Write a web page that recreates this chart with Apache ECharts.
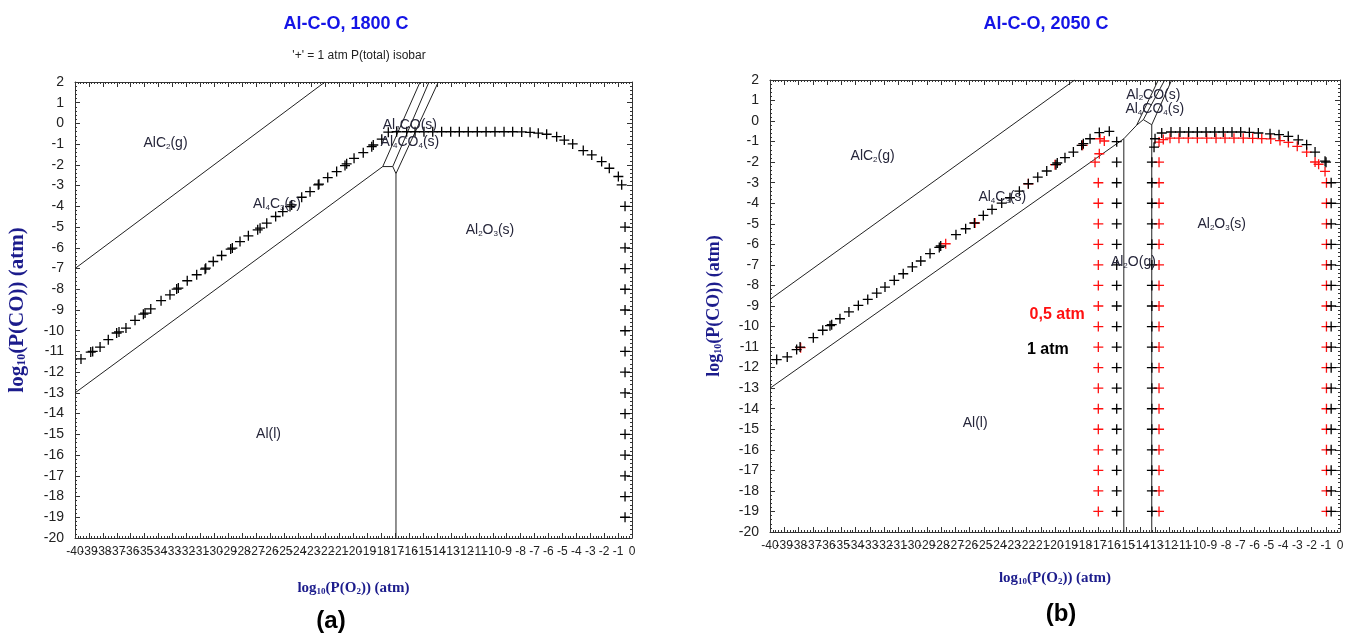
<!DOCTYPE html>
<html>
<head>
<meta charset="utf-8">
<title>Al-C-O predominance diagrams</title>
<script src="https://cdn.jsdelivr.net/npm/echarts@6/dist/echarts.min.js"></script>
<style>
  html, body { margin: 0; background: #fff; }
  #main { width: 1358px; height: 634px; }
</style>
</head>
<body>
<div id="main"></div>
<script type="text/javascript">
// axis ranges (log10 units)
var xMin = -40, xMax = 0, yMin = -20, yMax = 2;

// ---- panel (a), 1800 C : phase boundaries [log P(O2), log P(CO)]
var aUpper = [[-40, -7], [-22.05, 2]];
var aLower = [[-40, -13], [-17.9, -2.08], [-17.18, -2.08], [-16.95, -2.42], [-16.95, -20]];
var aFan1 = [[-17.9, -2.08], [-15.22, 2]];
var aFan2 = [[-17.18, -2.08], [-14.58, 2]];
var aFan3 = [[-16.95, -2.42], [-13.91, 2]];

// panel (a): 1 atm isobar points
var aIsobar = [
  [-39.57, -11.36], [-38.87, -11.03], [-38.73, -11.0], [-38.2, -10.79], [-37.61, -10.43],
  [-37.01, -10.11], [-36.84, -10.06], [-36.34, -9.87], [-35.69, -9.5], [-35.09, -9.2],
  [-34.97, -9.15], [-34.56, -8.95], [-33.82, -8.55], [-33.18, -8.27], [-32.7, -7.99],
  [-32.58, -7.94], [-31.94, -7.59], [-31.26, -7.3], [-30.66, -7.03], [-30.61, -6.98],
  [-30.07, -6.66], [-29.47, -6.37], [-28.82, -6.06], [-28.7, -6.01], [-28.15, -5.7],
  [-27.55, -5.42], [-26.88, -5.13], [-26.71, -5.05], [-26.23, -4.81], [-25.59, -4.49],
  [-25.08, -4.25], [-24.56, -4.01], [-24.44, -3.93], [-23.72, -3.56], [-23.12, -3.29],
  [-22.53, -2.96], [-22.48, -2.93], [-21.85, -2.61], [-21.21, -2.32], [-20.61, -2.03],
  [-20.49, -1.95], [-19.96, -1.68], [-19.3, -1.41], [-18.69, -1.12], [-18.58, -1.04],
  [-17.97, -0.76], [-17.5, -0.42], [-16.9, -0.4], [-16.18, -0.4], [-15.58, -0.4],
  [-14.94, -0.4], [-14.31, -0.4], [-13.67, -0.4], [-13.02, -0.4], [-12.4, -0.4],
  [-11.76, -0.4], [-11.11, -0.4], [-10.48, -0.4], [-9.84, -0.4], [-9.19, -0.4],
  [-8.57, -0.4], [-7.92, -0.41], [-7.32, -0.43], [-6.73, -0.47], [-6.13, -0.52],
  [-5.41, -0.64], [-4.86, -0.8], [-4.26, -0.99], [-3.5, -1.31], [-2.89, -1.52],
  [-2.18, -1.84], [-1.63, -2.16], [-0.98, -2.56], [-0.74, -2.96]
];
var aColumnX = -0.5;
var aColumnY = [-4, -5, -6, -7, -8, -9, -10, -11, -12, -13, -14, -15, -16, -17, -18, -19];

// ---- panel (b), 2050 C : phase boundaries
var bUpper = [[-40, -8.68], [-18.62, 2]];
var bLower = [[-40, -13], [-15.17, -0.86], [-15.17, -20]];
var bKinks = [[-15.17, -0.86], [-14.27, -0.2], [-13.8, 0.07], [-13.21, -0.18], [-13.21, -20]];
var bFan1 = [[-14.27, -0.2], [-12.75, 2]];
var bFan2 = [[-13.8, 0.07], [-12.3, 2]];
var bFan3 = [[-13.21, -0.18], [-11.81, 2]];

// panel (b): 1 atm isobar (black)
var bIsobar1 = [
  [-39.53, -11.61], [-38.79, -11.48], [-38.13, -11.12], [-37.89, -11.0], [-36.96, -10.54],
  [-36.3, -10.18], [-35.79, -9.96], [-35.67, -9.91], [-35.09, -9.62], [-34.46, -9.29],
  [-33.8, -8.97], [-33.14, -8.68], [-32.51, -8.37], [-31.93, -8.08], [-31.28, -7.75],
  [-30.65, -7.43], [-30.01, -7.1], [-29.42, -6.81], [-28.77, -6.45], [-28.12, -6.15],
  [-28.02, -6.08], [-26.95, -5.53], [-26.27, -5.24], [-25.66, -4.96], [-25.03, -4.59],
  [-24.42, -4.3], [-23.74, -3.99], [-23.16, -3.73], [-22.5, -3.41], [-21.87, -3.05],
  [-21.21, -2.73], [-20.58, -2.43], [-19.93, -2.12], [-19.84, -2.04], [-19.3, -1.78],
  [-18.71, -1.51], [-18.13, -1.18], [-18.01, -1.1], [-17.54, -0.86], [-16.89, -0.56],
  [-16.19, -0.5],
  [-12.98, -0.86], [-13.05, -1.27], [-12.51, -0.58],
  [-11.86, -0.53], [-11.23, -0.53], [-10.62, -0.53], [-10.01, -0.53], [-9.4, -0.53],
  [-8.79, -0.53], [-8.19, -0.53], [-7.58, -0.53], [-6.97, -0.53], [-6.36, -0.55],
  [-5.73, -0.58], [-4.91, -0.62], [-4.28, -0.66], [-3.63, -0.74], [-2.93, -0.91],
  [-2.34, -1.15], [-1.75, -1.51], [-1.05, -1.95], [-0.98, -2.0]
];
var bCol1X = [-15.67, -13.2, -0.62];
var bCol1Y = [
  [-1, -2, -3, -4, -5, -6, -7, -8, -9, -10, -11, -12, -13, -14, -15, -16, -17, -18, -19],
  [-2, -3, -4, -5, -6, -7, -8, -9, -10, -11, -12, -13, -14, -15, -16, -17, -18, -19],
  [-3, -4, -5, -6, -7, -8, -9, -10, -11, -12, -13, -14, -15, -16, -17, -18, -19]
];

// panel (b): 0.5 atm isobar (red)
var bIsobar05 = [
  [-37.85, -11.03], [-27.67, -5.97], [-25.61, -4.96], [-21.87, -3.05], [-20.0, -2.12],
  [-18.06, -1.18], [-16.84, -0.86], [-16.54, -0.97], [-16.89, -1.59], [-17.19, -2.0],
  [-12.7, -1.02], [-12.4, -0.9],
  [-11.93, -0.83], [-11.3, -0.83], [-10.65, -0.83], [-10.01, -0.83], [-9.35, -0.83],
  [-8.7, -0.83], [-8.07, -0.83], [-7.44, -0.83], [-6.79, -0.83], [-6.13, -0.84],
  [-5.49, -0.85], [-4.86, -0.87], [-4.21, -0.95], [-3.62, -1.04], [-3.0, -1.23],
  [-2.34, -1.51], [-1.75, -1.99], [-1.5, -2.1], [-1.05, -2.45]
];
var bCol05X = [-16.96, -12.7, -0.95];
var bCol05Y = [
  [-3, -4, -5, -6, -7, -8, -9, -10, -11, -12, -13, -14, -15, -16, -17, -18, -19],
  [-2, -3, -4, -5, -6, -7, -8, -9, -10, -11, -12, -13, -14, -15, -16, -17, -18, -19],
  [-3, -4, -5, -6, -7, -8, -9, -10, -11, -12, -13, -14, -15, -16, -17, -18, -19]
];

// phase field labels [x, y, text]
var aLabels = [
  [-33.5, -0.95, 'AlC{s|2}(g)'],
  [-25.5, -3.9, 'Al{s|4}C{s|3}(s)'],
  [-15.95, -0.1, 'Al{s|2}CO(s)'],
  [-15.95, -0.92, 'Al{s|4}CO{s|4}(s)'],
  [-10.2, -5.15, 'Al{s|2}O{s|3}(s)'],
  [-26.1, -15.0, 'Al(l)']
];
var bLabels = [
  [-32.8, -1.7, 'AlC{s|2}(g)'],
  [-23.7, -3.7, 'Al{s|4}C{s|3}(s)'],
  [-13.1, 1.28, 'Al{s|2}CO(s)'],
  [-13.0, 0.58, 'Al{s|4}CO{s|4}(s)'],
  [-8.3, -5.0, 'Al{s|2}O{s|3}(s)'],
  [-14.5, -6.85, 'Al{s|2}O(g)'],
  [-25.6, -14.7, 'Al(l)']
];
var bPressureLabels = [
  [-19.85, -9.4, '0,5 atm', '#ff1010'],
  [-20.5, -11.1, '1 atm', '#000']
];

var plusPath = 'path://M4.35,0H5.65V4.35H10V5.65H5.65V10H4.35V5.65H0V4.35H4.35Z';
var tickFont = '"Liberation Sans", Arial, sans-serif';
var nameFont = '"Liberation Serif", "Times New Roman", serif';
var frameColor = '#333';

function column(x, ys) {
  return ys.map(function (y) { return [x, y]; });
}

function baseAxis(grid, pos, isX) {
  return {
    type: 'value', gridIndex: grid, position: pos,
    min: isX ? xMin : yMin, max: isX ? xMax : yMax, interval: 1,
    axisLine: { show: true, onZero: false, lineStyle: { color: frameColor, width: 1 } },
    axisTick: { show: true, inside: true, length: 5, lineStyle: { color: frameColor } },
    minorTick: { show: true, splitNumber: 5, length: 2, lineStyle: { color: frameColor } },
    axisLabel: { show: false },
    splitLine: { show: false }
  };
}
function mainX(grid, gap) {
  var ax = baseAxis(grid, 'bottom', true);
  ax.axisLabel = { show: true, fontSize: 12, color: '#222', fontFamily: tickFont, margin: 8,
    hideOverlap: false };
  ax.name = '{n|log}{s|10}{n|(P(O}{s|2}{n|)) (atm)}';
  ax.nameLocation = 'middle';
  ax.nameGap = gap;
  ax.nameTextStyle = {
    rich: {
      n: { fontFamily: nameFont, fontWeight: 'bold', fontSize: 15, color: '#1c1c8c' },
      s: { fontFamily: nameFont, fontWeight: 'bold', fontSize: 9, color: '#1c1c8c', padding: [6, 0, 0, 0] }
    }
  };
  return ax;
}
// the library drops the "-40" label where it collides with "-39"; this
// label-only axis puts it back so the crowded row reads as in the original
function minLabelX(grid) {
  return {
    type: 'value', gridIndex: grid, position: 'bottom', min: xMin, max: xMax, interval: 1,
    axisLine: { show: false, onZero: false }, axisTick: { show: false },
    splitLine: { show: false },
    axisLabel: { show: true, fontSize: 12, color: '#222', fontFamily: tickFont, margin: 8,
      showMinLabel: true, showMaxLabel: false,
      formatter: function (v) { return v === xMin ? String(v) : ''; } }
  };
}
function mainY(grid, gap, size) {
  var ax = baseAxis(grid, 'left', false);
  ax.axisLabel = { show: true, fontSize: 14, color: '#222', fontFamily: tickFont, margin: 11,
    showMinLabel: true, showMaxLabel: true };
  ax.name = '{n|log}{s|10}{n|(P(CO)) (atm)}';
  ax.nameLocation = 'middle';
  ax.nameGap = gap;
  ax.nameTextStyle = {
    rich: {
      n: { fontFamily: nameFont, fontWeight: 'bold', fontSize: size, color: '#1c1c8c' },
      s: { fontFamily: nameFont, fontWeight: 'bold', fontSize: Math.round(size * 0.55), color: '#1c1c8c',
        padding: [Math.round(size * 0.45), 0, 0, 0] }
    }
  };
  return ax;
}

var series = [];
function boundary(data, xi, yi) {
  series.push({
    type: 'line', xAxisIndex: xi, yAxisIndex: yi, data: data,
    showSymbol: false, symbol: 'none', silent: true,
    lineStyle: { color: '#222', width: 1 }, z: 2
  });
}
function pluses(data, xi, yi, color, z) {
  series.push({
    type: 'scatter', xAxisIndex: xi, yAxisIndex: yi, data: data,
    symbol: plusPath, symbolSize: 10, itemStyle: { color: color, opacity: 1 }, z: z
  });
}
function labels(data, xi, yi) {
  series.push({
    type: 'scatter', xAxisIndex: xi, yAxisIndex: yi, data: data,
    symbolSize: 0, z: 5, itemStyle: { opacity: 1 },
    label: {
      show: true, position: 'inside', opacity: 1,
      formatter: function (p) { return p.value[2]; },
      fontFamily: tickFont, fontSize: 14, color: '#26263a',
      rich: { s: { fontFamily: tickFont, fontSize: 8, color: '#26263a', padding: [7, 0, 0, 0] } }
    }
  });
}

// axis order: x 0 bottom(a) 1 top(a) 2 bottom(b) 3 top(b) 4/5 min labels
[aUpper, aLower, aFan1, aFan2, aFan3].forEach(function (d) { boundary(d, 0, 0); });
pluses(aIsobar.concat(column(aColumnX, aColumnY)), 0, 0, '#000', 4);
labels(aLabels, 0, 0);

[bUpper, bLower, bKinks, bFan1, bFan2, bFan3].forEach(function (d) { boundary(d, 2, 2); });
var red = bIsobar05.slice();
bCol05X.forEach(function (x, i) { red = red.concat(column(x, bCol05Y[i])); });
pluses(red, 2, 2, '#ff1010', 3);
var black = bIsobar1.slice();
bCol1X.forEach(function (x, i) { black = black.concat(column(x, bCol1Y[i])); });
pluses(black, 2, 2, '#000', 4);
labels(bLabels, 2, 2);
series.push({
  type: 'scatter', xAxisIndex: 2, yAxisIndex: 2, symbolSize: 0, z: 5,
  itemStyle: { opacity: 1 },
  data: bPressureLabels.map(function (d) {
    return { value: d, label: { color: d[3] } };
  }),
  label: {
    show: true, position: 'inside', opacity: 1,
    formatter: function (p) { return p.value[2]; },
    fontFamily: 'Arial, "Liberation Sans", sans-serif', fontWeight: 'bold', fontSize: 16
  }
});

var chart = echarts.init(document.getElementById('main'), null, { renderer: 'canvas' });
chart.setOption({
  animation: false,
  backgroundColor: '#fff',
  title: [
    { text: 'Al-C-O, 1800 C', left: 341, top: 10, textAlign: 'center',
      textStyle: { color: '#1414e6', fontSize: 18, fontWeight: 'bold', fontFamily: tickFont } },
    { text: "'+' = 1 atm P(total) isobar", left: 354, top: 45, textAlign: 'center',
      textStyle: { color: '#222', fontSize: 12, fontWeight: 'normal', fontFamily: tickFont } },
    { text: 'Al-C-O, 2050 C', left: 1041, top: 10, textAlign: 'center',
      textStyle: { color: '#1414e6', fontSize: 18, fontWeight: 'bold', fontFamily: tickFont } },
    { text: '(a)', left: 326, top: 604, textAlign: 'center',
      textStyle: { color: '#000', fontSize: 24, fontWeight: 'bold', fontFamily: 'Arial, "Liberation Sans", sans-serif' } },
    { text: '(b)', left: 1056, top: 597, textAlign: 'center',
      textStyle: { color: '#000', fontSize: 24, fontWeight: 'bold', fontFamily: 'Arial, "Liberation Sans", sans-serif' } }
  ],
  grid: [
    { left: 75, top: 82, width: 557, height: 456 },
    { left: 770, top: 80, width: 570, height: 452 }
  ],
  xAxis: [mainX(0, 43), baseAxis(0, 'top', true), mainX(1, 39), baseAxis(1, 'top', true),
    minLabelX(0), minLabelX(1)],
  yAxis: [mainY(0, 47, 21), baseAxis(0, 'right', false), mainY(1, 47, 18), baseAxis(1, 'right', false)],
  series: series
});
</script>
</body>
</html>
